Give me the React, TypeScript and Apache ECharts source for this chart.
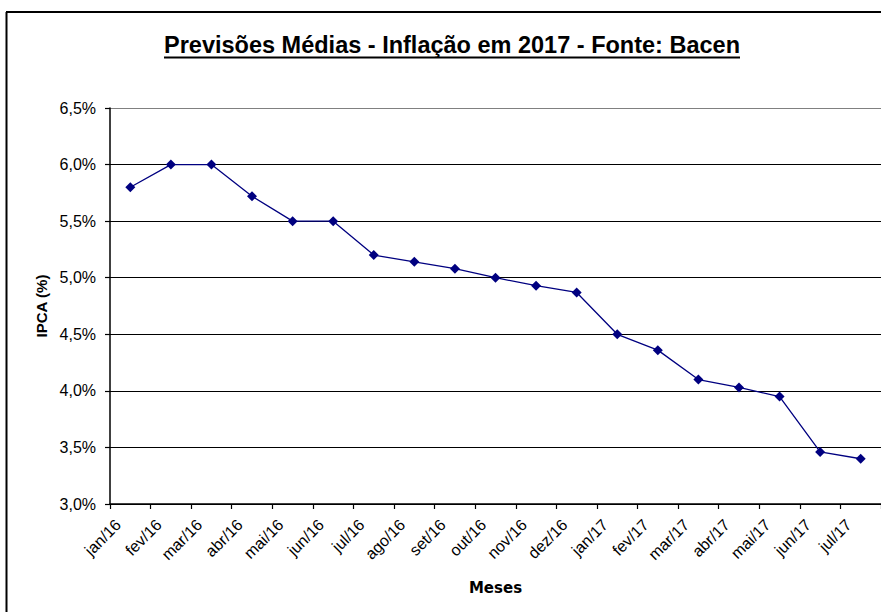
import React, { useEffect, useRef } from "react";
import * as echarts from "echarts";

const categories = [
  "jan/16", "fev/16", "mar/16", "abr/16", "mai/16", "jun/16", "jul/16", "ago/16", "set/16", "out/16",
  "nov/16", "dez/16", "jan/17", "fev/17", "mar/17", "abr/17", "mai/17", "jun/17", "jul/17",
];
const ipca = [5.8, 6.0, 6.0, 5.72, 5.5, 5.5, 5.2, 5.14, 5.08, 5.0, 4.93, 4.87, 4.5, 4.36, 4.1, 4.03, 3.95, 3.46, 3.4];
const yMin = 3.0;
const yMax = 6.5;
const yStep = 0.5;
const titleText = "Previsões Médias - Inflação em 2017 - Fonte: Bacen";
const xTitle = "Meses";
const yTitle = "IPCA (%)";

export default function App() {
  const ref = useRef<HTMLDivElement>(null);
  useEffect(() => {
    if (!ref.current) return;
    const chart = echarts.init(ref.current, undefined, { renderer: "svg" });
    const nLines = Math.round((yMax - yMin) / yStep) + 1;
    const splitColors = Array.from({ length: nLines }, (_, i) => (i === nLines - 1 ? "#808080" : "#000000"));
    chart.setOption({
      animation: false,
      backgroundColor: "#ffffff",
      grid: { left: 110, top: 108, width: 773, height: 396, containLabel: false },
      xAxis: {
        type: "category",
        data: categories,
        boundaryGap: true,
        axisLine: { show: true, lineStyle: { color: "#000", width: 1.5 } },
        axisTick: { show: true, length: 5, lineStyle: { color: "#000", width: 1.2 } },
        axisLabel: {
          rotate: 45,
          interval: 0,
          fontFamily: "Liberation Sans",
          fontSize: 16,
          color: "#000",
          margin: 6,
          padding: [0, 17, 0, 0],
        },
        name: xTitle,
        nameLocation: "middle",
        nameGap: 76,
        nameTextStyle: { fontFamily: "DejaVu Sans", fontWeight: "bold", fontSize: 15, color: "#000" },
      },
      yAxis: {
        type: "value",
        min: yMin,
        max: yMax,
        interval: yStep,
        axisLine: { show: true, lineStyle: { color: "#000", width: 1.5 } },
        axisTick: { show: true, length: 5, lineStyle: { color: "#000", width: 1.2 } },
        axisLabel: {
          formatter: (v: number) => v.toFixed(1).replace(".", ",") + "%",
          fontFamily: "Liberation Sans",
          fontSize: 16,
          color: "#000",
          margin: 14,
        },
        splitLine: { show: true, lineStyle: { color: splitColors, width: 1.2 } },
        name: yTitle,
        nameLocation: "middle",
        nameGap: 60,
        nameTextStyle: { fontFamily: "Liberation Sans", fontWeight: "bold", fontSize: 15, color: "#000" },
      },
      series: [
        {
          type: "line",
          data: ipca,
          symbol: "diamond",
          symbolSize: 10,
          lineStyle: { color: "#000080", width: 1.3 },
          itemStyle: { color: "#000080" },
        },
      ],
      graphic: [
        { type: "line", shape: { x1: 6.5, y1: 12, x2: 6.5, y2: 640 }, style: { stroke: "#000", lineWidth: 2 } },
        { type: "line", shape: { x1: 6, y1: 12, x2: 900, y2: 12 }, style: { stroke: "#000", lineWidth: 2 } },
        {
          type: "text",
          x: 452,
          y: 45,
          style: {
            text: titleText,
            fontFamily: "Liberation Sans",
            fontWeight: "bold",
            fontSize: 23.5,
            fill: "#000",
            textAlign: "center",
            textVerticalAlign: "middle",
          },
        },
        { type: "line", shape: { x1: 164, y1: 57.5, x2: 740, y2: 57.5 }, style: { stroke: "#000", lineWidth: 2 } },
      ],
    });
    return () => chart.dispose();
  }, []);
  return <div ref={ref} style={{ position: "absolute", left: 0, top: 0, width: 881, height: 612 }} />;
}
